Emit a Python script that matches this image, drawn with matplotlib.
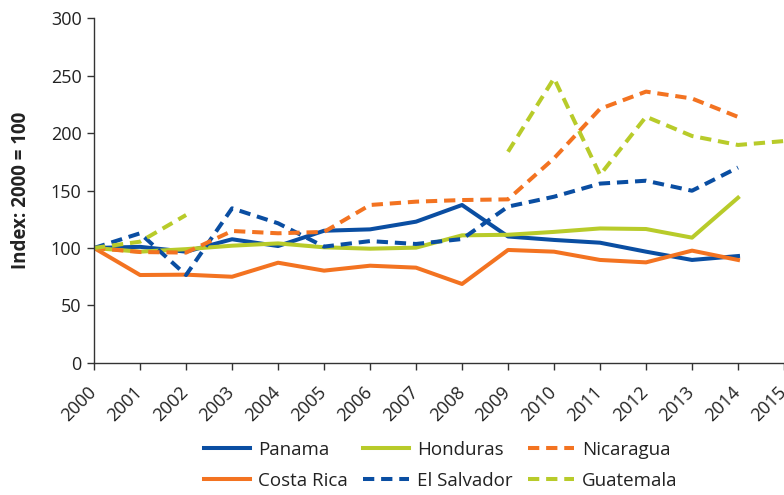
import numpy as np
import matplotlib
matplotlib.use("Agg")
import matplotlib.pyplot as plt

plt.rcParams['font.family'] = ['Open Sans', 'DejaVu Sans']

years = list(range(2000, 2016))
panama      = [100, 101, 96.8, 107.6, 101.7, 115, 116.2, 122.9, 137.4, 110, 107, 104.6, 96.8, 89.6, 93, np.nan]
costa_rica  = [100, 76.5, 76.8, 75, 87.2, 80.3, 84.6, 82.9, 68.7, 98.3, 96.8, 89.6, 87.5, 97.7, 89.6, np.nan]
honduras    = [100, 96.8, 99, 102, 104, 100.6, 99.4, 100.3, 111, 111.5, 114, 117, 116.5, 109, 143.7, np.nan]
el_salvador = [100, 112.8, 76.5, 134.5, 121.5, 101.2, 106, 103.5, 107.8, 136, 144.6, 156, 158.5, 149.8, 170, np.nan]
nicaragua   = [100, 96.5, 96, 114.8, 112.8, 114, 137.4, 140.3, 141.7, 142.3, 178, 221, 236, 230, 214, np.nan]
guatemala   = [100, 105.5, 128.7, np.nan, np.nan, np.nan, np.nan, np.nan, np.nan, 183.7, 247.6, 163.5, 214.2, 197.4, 189.6, 193]

yticks = [0, 50, 100, 150, 200, 250, 300]
ylabel = "Index: 2000 = 100"

BLUE = "#0A4EA2"
ORANGE = "#F37321"
GREEN = "#B8CB2A"

fig = plt.figure(figsize=(7.84, 4.95), dpi=100)
ax = fig.add_axes([0.12, 0.2667, 0.88, 0.6969])

lw = 2.9
dash = (2.8, 1.7)
series = [
    ("Panama", panama, BLUE, '-'),
    ("Costa Rica", costa_rica, ORANGE, '-'),
    ("Honduras", honduras, GREEN, '-'),
    ("El Salvador", el_salvador, BLUE, '--'),
    ("Nicaragua", nicaragua, ORANGE, '--'),
    ("Guatemala", guatemala, GREEN, '--'),
]
handles = {}
for name, vals, col, ls in series:
    if ls == '--':
        ln, = ax.plot(years, vals, color=col, lw=lw, dashes=dash, label=name)
    else:
        ln, = ax.plot(years, vals, color=col, lw=lw, label=name)
    handles[name] = ln

ax.set_xlim(2000, 2015)
ax.set_ylim(0, 300)
ax.set_yticks(yticks)
ax.set_xticks(years)
ax.set_xticklabels([str(y) for y in years], rotation=45, ha='right', va='center',
                   rotation_mode='anchor')
for s in ['top', 'right']:
    ax.spines[s].set_visible(False)
for s in ['left', 'bottom']:
    ax.spines[s].set_color('#333333')
    ax.spines[s].set_linewidth(1.0)
ax.tick_params(axis='both', labelsize=13, colors='#333333', labelcolor='#222222',
               length=5, width=1.0, direction='out')
ax.tick_params(axis='x', pad=14)
ax.tick_params(axis='y', pad=4)
ax.set_ylabel(ylabel, fontsize=13.5, fontweight='bold', color='#222222')
ax.yaxis.set_label_coords(-0.092, 0.5)

order = ["Panama", "Costa Rica", "Honduras", "El Salvador", "Nicaragua", "Guatemala"]
leg = fig.legend([handles[n] for n in order], order, loc='center', ncol=3,
                 bbox_to_anchor=(0.562, 0.06), frameon=False, fontsize=13.5,
                 handlelength=2.45, columnspacing=0.8, handletextpad=0.45,
                 labelspacing=0.7, borderpad=0.2)
for t in leg.get_texts():
    t.set_color('#222222')

fig.savefig("out.png", dpi=100)
